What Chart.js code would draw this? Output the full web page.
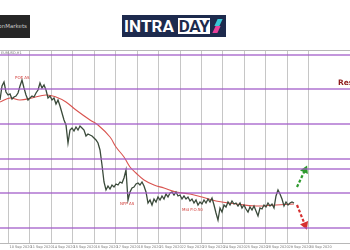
<!DOCTYPE html>
<html>
<head>
<meta charset="utf-8">
<script src="https://cdn.jsdelivr.net/npm/chart.js@4/dist/chart.umd.min.js"></script>
<style>
  body { margin: 0; background: #fff; overflow: hidden; }
  #wrap { position: relative; width: 350px; height: 250px; }
  #chart { position: absolute; left: 0; top: 0; }
  .broker {
    position: absolute; left: -34px; top: 15px; width: 64px; height: 23px;
    background: #262626; color: #c8c8c8; font: 5.5px "DejaVu Sans", sans-serif;
    line-height: 23px; text-align: right; padding-right: 3px; box-sizing: border-box;
  }
  .logo {
    position: absolute; left: 122px; top: 15px; width: 104px; height: 22px;
    background: #1d2a4d; font: bold 17px Roboto, "Liberation Sans", sans-serif;
  }
  .logo .a { position: absolute; left: 2px; top: 2px; color: #fff; line-height: 18px; letter-spacing: 0.1px; }
  .logo .b {
    position: absolute; left: 56px; top: 3px; height: 16px; width: 32px; background: #fff;
    color: #1d2a4d; line-height: 17px; text-align: center; letter-spacing: -0.4px;
  }
  .logo .s1, .logo .s2 { position: absolute; width: 5px; height: 7px; transform: skewX(-25deg); }
  .logo .s1 { left: 94px; top: 4px; background: #38c6d6; }
  .logo .s2 { left: 92px; top: 11px; background: #e8409a; }
</style>
</head>
<body>
<div id="wrap">
  <canvas id="chart" width="350" height="250"></canvas>
  <div class="broker">FusionMarkets</div>
  <div class="logo"><span class="a">INTRA</span><span class="b">DAY</span><span class="s1"></span><span class="s2"></span></div>
</div>
<script>
// Cierres por barra (una barra cada 2 px del gráfico original)
const closes = [
  1.1703, 1.1717, 1.1721, 1.1711, 1.1708, 1.1709, 1.1704, 1.1706, 1.1707, 1.1710,
  1.1717, 1.1723, 1.1715, 1.1708, 1.1703, 1.1705, 1.1707, 1.1706, 1.1710, 1.1713,
  1.1720, 1.1715, 1.1718, 1.1713, 1.1705, 1.1707, 1.1703, 1.1705, 1.1699, 1.1703,
  1.1697, 1.1690, 1.1683, 1.1678, 1.1660, 1.1673, 1.1675, 1.1672, 1.1676, 1.1673,
  1.1677, 1.1675, 1.1673, 1.1667, 1.1669, 1.1668, 1.1667, 1.1665, 1.1663, 1.1660,
  1.1653, 1.1638, 1.1621, 1.1613, 1.1617, 1.1614, 1.1618, 1.1616, 1.1619, 1.1618,
  1.1621, 1.1620, 1.1625, 1.1633, 1.1603, 1.1611, 1.1615, 1.1616, 1.1619, 1.1620,
  1.1618, 1.1621, 1.1617, 1.1611, 1.1600, 1.1603, 1.1598, 1.1604, 1.1601, 1.1606,
  1.1603, 1.1607, 1.1604, 1.1609, 1.1606, 1.1610, 1.1611, 1.1608, 1.1611, 1.1607,
  1.1608, 1.1604, 1.1607, 1.1604, 1.1606, 1.1602, 1.1604, 1.1600, 1.1603, 1.1598,
  1.1601, 1.1599, 1.1603, 1.1600, 1.1604, 1.1601, 1.1605, 1.1598, 1.1590, 1.1583,
  1.1595, 1.1591, 1.1598, 1.1596, 1.1601, 1.1598, 1.1602, 1.1599, 1.1600, 1.1597,
  1.1600, 1.1595, 1.1598, 1.1594, 1.1591, 1.1596, 1.1593, 1.1597, 1.1592, 1.1587,
  1.1595, 1.1594, 1.1598, 1.1596, 1.1600, 1.1597, 1.1599, 1.1595, 1.1607, 1.1613,
  1.1609, 1.1604, 1.1597, 1.1601, 1.1598, 1.1600, 1.1601, 1.1600
];

// Media móvil (roja)
const maBars = [0, 5, 10, 16, 23, 28, 33, 38, 45, 49, 55, 58, 62, 65, 68, 72, 77, 82, 88, 95, 101, 108, 118, 128, 138, 147];
const maValues = [1.1701, 1.1705, 1.1703, 1.1705, 1.1708, 1.1706, 1.1701, 1.1693, 1.1683, 1.1678, 1.1666, 1.1656, 1.1646,
  1.1636, 1.1630, 1.1623, 1.1618, 1.1615, 1.1611, 1.1609, 1.1606, 1.1602, 1.1599, 1.1597, 1.1598, 1.1599];

// Niveles horizontales (morado)
const levels = [1.1748, 1.1714, 1.1679, 1.1644, 1.1634, 1.1610, 1.1575];

// Etiquetas de fecha del eje X
const dateLabels = ['10 Sep 2020', '11 Sep 2020', '14 Sep 2020', '15 Sep 2020', '16 Sep 2020', '17 Sep 2020', '18 Sep 2020',
  '21 Sep 2020', '22 Sep 2020', '23 Sep 2020', '24 Sep 2020', '25 Sep 2020', '28 Sep 2020', '29 Sep 2020', '30 Sep 2020'];
const firstDayBar = 4;
const barsPerDay = 10.72;

// Flechas de escenario
const upArrowBars = [148.5, 152.5];
const upArrowValues = [1.1616, 1.1633];
const downArrowBars = [148.5, 152.5];
const downArrowValues = [1.1598, 1.1578];

// Textos sobre el gráfico
const notes = [
  { text: 'POE AS', bar: 7.5, value: 1.1725, color: '#d2403c', font: '4px "DejaVu Sans"' },
  { text: 'NFP AS', bar: 60, value: 1.1599, color: '#d2403c', font: '4px "DejaVu Sans"' },
  { text: 'Mid P.O.50', bar: 91, value: 1.1593, color: '#d2403c', font: '4px "DejaVu Sans"' },
  { text: 'Resistance', bar: 169, value: 1.1720, color: '#8e1c1c', font: 'bold 7.5px "DejaVu Sans"' }
];

const xMin = 0, xMax = 175;
const yMin = 1.1560, yMax = 1.1753;

function initChart(){
    const levelSets = levels.map(v => ({
        data: [{ x: xMin, y: v }, { x: xMax, y: v }],
        borderColor: 'rgba(160, 90, 200, 0.85)',
        borderWidth: 1.4,
        pointRadius: 0
    }));

    const arrowSet = (bars, vals, color, rot) => ({
        data: bars.map((b, i) => ({ x: b, y: vals[i] })),
        borderColor: color,
        backgroundColor: color,
        borderWidth: 2.2,
        borderDash: [3, 2],
        pointStyle: 'triangle',
        pointRadius: [0, 2.8],
        rotation: rot
    });

    // Rejilla vertical y fechas en cada marca del eje X
    const gridPlugin = {
        id: 'dayGrid',
        beforeDatasetsDraw(chart){
            const { ctx, chartArea, scales } = chart;
            ctx.save();
            ctx.strokeStyle = '#c6c6c6';
            ctx.lineWidth = 1;
            ctx.fillStyle = '#777';
            ctx.font = '3.5px "DejaVu Sans"';
            ctx.textBaseline = 'top';
            scales.x.ticks.forEach((t, k) => {
                const px = Math.round(scales.x.getPixelForValue(t.value)) + 0.5;
                ctx.beginPath();
                ctx.moveTo(px, chartArea.top);
                ctx.lineTo(px, chartArea.bottom);
                ctx.stroke();
                ctx.fillText(dateLabels[k], px + 1, chartArea.bottom + 2);
            });
            ctx.restore();
        }
    };

    // Marco superior e inferior y anotaciones de texto
    const notesPlugin = {
        id: 'notes',
        afterDatasetsDraw(chart){
            const { ctx, chartArea, scales } = chart;
            ctx.save();
            ctx.strokeStyle = '#b8b8b8';
            ctx.lineWidth = 1;
            ctx.beginPath();
            ctx.moveTo(chartArea.left, chartArea.top + 0.5);
            ctx.lineTo(chartArea.right, chartArea.top + 0.5);
            ctx.moveTo(chartArea.left, chartArea.bottom + 0.5);
            ctx.lineTo(chartArea.right, chartArea.bottom + 0.5);
            ctx.stroke();
            ctx.fillStyle = '#777';
            ctx.font = '3.5px "DejaVu Sans"';
            ctx.textBaseline = 'top';
            ctx.fillText('EURUSD,H1', 1, chartArea.top + 1);
            ctx.textBaseline = 'middle';
            notes.forEach(n => {
                ctx.fillStyle = n.color;
                ctx.font = n.font;
                ctx.fillText(n.text, scales.x.getPixelForValue(n.bar), scales.y.getPixelForValue(n.value));
            });
            ctx.restore();
        }
    };

    const ctx = document.getElementById('chart').getContext('2d');
    new Chart(ctx, {
        type: 'line',
        data: {
            datasets: [
                ...levelSets,
                {
                    data: closes.map((c, i) => ({ x: i, y: c })),
                    borderColor: '#3a4a3a',
                    borderWidth: 1.3,
                    pointRadius: 0,
                    tension: 0
                },
                {
                    data: maBars.map((b, i) => ({ x: b, y: maValues[i] })),
                    borderColor: '#d9534f',
                    borderWidth: 1.1,
                    pointRadius: 0,
                    tension: 0.4
                },
                arrowSet(upArrowBars, upArrowValues, '#2e9a2e', 25),
                arrowSet(downArrowBars, downArrowValues, '#d63030', 158)
            ]
        },
        options: {
            responsive: false,
            animation: false,
            layout: { autoPadding: false, padding: { top: 50, left: 0, right: 0, bottom: 7 } },
            plugins: { legend: { display: false }, tooltip: { enabled: false } },
            scales: {
                x: {
                    type: 'linear',
                    min: xMin,
                    max: xMax,
                    afterBuildTicks: axis => {
                        axis.ticks = dateLabels.map((d, k) => ({ value: firstDayBar + k * barsPerDay }));
                    },
                    ticks: { display: false },
                    grid: { display: false, drawTicks: false, tickLength: 0 },
                    border: { display: false }
                },
                y: {
                    display: false,
                    min: yMin,
                    max: yMax
                }
            }
        },
        plugins: [gridPlugin, notesPlugin]
    });
}

initChart();
</script>
</body>
</html>
